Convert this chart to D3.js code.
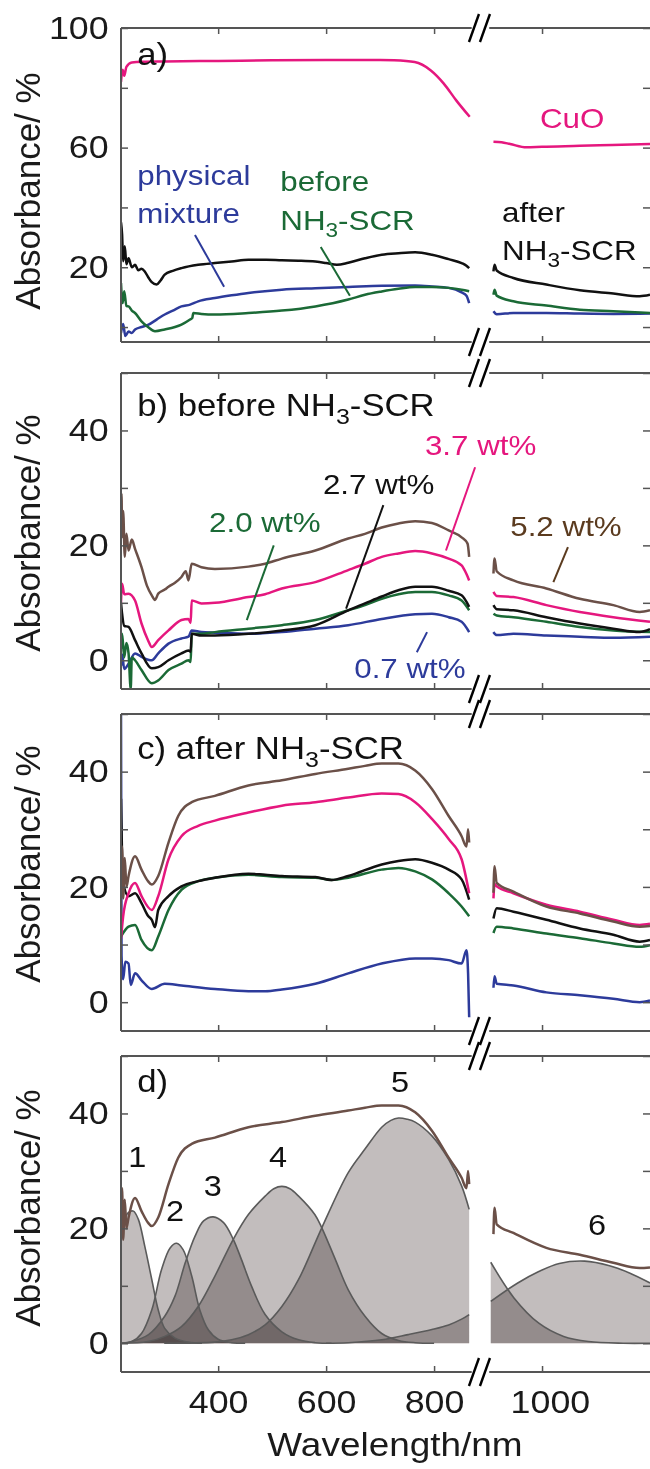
<!DOCTYPE html>
<html>
<head>
<meta charset="utf-8">
<script src="https://cdnjs.cloudflare.com/ajax/libs/d3/7.8.5/d3.min.js"></script>
<style>
  body { margin: 0; background: #fff; }
  svg { display: block; font-family: "Liberation Sans", Arial, sans-serif; }
</style>
</head>
<body>
<div id="chart"></div>
<script>
// all series are [wavelength / nm, absorbance / %]

// a) references
var cuoA = [[220,82],[223,86],[226,84],[230,87],[240,88.5],[260,88.7],[300,88.8],[400,89],[500,89.2],[600,89.3],[700,89.3],[726,89.2],[764,88.6],[794,85.8],[818,81.4],[841,75.8],[866,70.3],
  [910,62],[925,61.8],[941,61.2],[971,60.1],[1000,60.3],[1070,60.6],[1130,60.9],[1200,61.2]];
var afterA = [[220,35],[222,31],[224,22],[227,27],[230,21],[234,23],[240,20],[246,20.8],[252,19],[258,19.5],[264,18.6],[271,16.5],[277,15],[286,14.2],[293,15.5],[301,17.5],[316,18.8],[332,19.7],[363,20.8],[394,21.4],[425,21.9],[456,22.5],[489,22.5],[518,22.3],[549,22.2],[580,21.9],[600,21.4],[620,20.8],[641,21.5],[672,23],[703,24.2],[734,24.7],[765,25],[796,24.2],[827,22.7],[851,21.4],[860,20.5],[865,19.7],
  [910,18.6],[912,20.8],[916,18.9],[947,16.4],[1008,14.2],[1070,12.3],[1132,11.2],[1181,10.3],[1200,10.8]];
var mixtureA = [[220,-2],[224,1],[228,-3],[234,-1.5],[240,-2],[246,-0.8],[258,0],[271,0.8],[286,2.5],[301,4.2],[316,5.5],[332,6.9],[348,7.5],[363,8.6],[394,9.7],[425,10.6],[456,11.4],[518,12.5],[580,13],[641,13.4],[703,13.8],[765,13.9],[796,13.6],[827,13.1],[851,11.6],[860,10.5],[865,8],
  [910,5.3],[916,4.3],[947,4.7],[1008,4.7],[1070,4.5],[1132,4.4],[1200,4.5]];
var beforeA = [[220,14.7],[223,8],[226,12],[230,7],[234,6.9],[240,5.5],[246,4.7],[258,1.9],[270,0],[283,-1.4],[301,-0.8],[320,0],[332,0.8],[348,2.5],[352,3],[354,4.7],[369,4.4],[394,4.2],[456,4.7],[518,5.5],[580,6.9],[641,9.2],[672,10.8],[703,11.9],[734,12.8],[765,13.4],[796,13.4],[827,13.1],[851,12.5],[865,12],
  [910,10.8],[912,12.5],[916,10.5],[947,8.6],[1008,7.2],[1070,5.8],[1132,5.3],[1200,4.7]];

// b) before NH3-SCR, by Cu loading
var before52 = [[220,24],[221,29],[222,21.4],[224,26],[227,18],[230,22],[234,19.1],[240,21],[246,19.4],[258,16.2],[268,13],[277,11.3],[283,10.5],[289,11.6],[301,12.3],[308,12.8],[320,13.5],[332,14.5],[340,15.5],[345,13.9],[351,16.8],[369,16.2],[394,15.9],[456,16.3],[487,16.8],[518,17.7],[580,19.1],[641,21.2],[672,22],[703,23.1],[734,23.8],[765,24.2],[796,23.9],[827,22.6],[851,21.4],[862,20.3],[865,18],
  [910,15.1],[912,17.7],[916,15.5],[947,13.9],[1008,12.5],[1070,10.7],[1132,9.6],[1181,8.4],[1200,8.7]];
var before37 = [[220,10],[222,13.3],[226,11.5],[234,11.6],[246,10.4],[258,6.4],[270,3.5],[277,2.3],[289,3.5],[308,5.2],[332,7],[345,7.2],[349,6.5],[351,10.4],[369,9.9],[394,10],[456,11],[487,11.5],[518,12.5],[580,13.6],[641,15.7],[672,16.8],[703,18],[734,18.6],[765,19],[796,18.6],[827,17.7],[851,16.5],[860,15],[865,13.9],
  [910,11.9],[916,11.2],[947,11],[1008,9.6],[1070,8.4],[1132,7.5],[1200,6.7]];
var before27 = [[220,10],[222,8.1],[226,6],[234,5.8],[246,3.5],[258,1.2],[277,-1.4],[289,-1.2],[308,0],[332,1.2],[345,1.7],[349,1.5],[351,4.6],[369,4.3],[394,4.3],[456,4.6],[518,5.2],[580,6.1],[641,8.7],[672,9.9],[703,11.1],[734,12.2],[765,12.8],[796,12.8],[827,12.1],[851,11.3],[865,9.3],
  [910,9.6],[916,8.9],[947,8.7],[1008,7.5],[1070,6.4],[1132,5.5],[1181,4.9],[1200,5.4]];
var before20 = [[220,2],[222,4.6],[226,0.5],[230,3],[234,1.2],[238,-5],[240,0.5],[246,0],[258,-1.7],[277,-4],[289,-3.5],[308,-1.7],[332,-0.6],[345,0],[349,-0.3],[351,4.6],[369,4.6],[394,4.9],[456,5.5],[518,6.1],[580,7],[641,8.7],[672,9.6],[703,10.7],[734,11.5],[765,11.9],[796,11.9],[827,11.3],[851,10.4],[865,8.7],
  [910,8.1],[916,7.8],[947,7.5],[1008,6.7],[1070,5.8],[1132,5.2],[1200,4.9]];
var before07 = [[220,-1],[222,1],[226,-1.5],[234,-0.6],[246,1.2],[258,0.6],[277,0],[289,1.2],[308,2.9],[332,3.8],[345,4.1],[351,5.2],[369,4.9],[394,4.8],[456,4.6],[518,4.9],[580,5.5],[641,6.1],[703,7.2],[765,8],[796,8.1],[827,7.5],[851,6.7],[865,4.9],
  [910,4.9],[916,4.4],[947,4.6],[1008,4.3],[1070,4.1],[1132,3.9],[1200,4.1]];

// c) after NH3-SCR
var after52 = [[220,22],[222,27],[224,18],[227,25],[230,20],[234,21.9],[246,25.3],[258,23],[270,21],[277,20.4],[289,21.9],[308,27.7],[326,32.3],[351,34.7],[394,35.8],[456,37.6],[518,38.5],[580,39.6],[641,40.5],[672,41],[703,41.4],[734,41.4],[765,40.2],[796,37],[827,32.3],[851,28.8],[860,27],[863,30],[865,27.7],
  [910,19],[912,23.6],[916,20.7],[947,19.2],[1008,16.6],[1070,15.4],[1132,14],[1181,13.1],[1200,13.2]];
var after37 = [[220,11],[224,14.9],[234,18.9],[246,20.7],[258,18.4],[277,16],[289,18.4],[308,24.8],[332,28.8],[363,30.6],[394,31.5],[456,32.9],[518,34.1],[580,34.7],[641,35.5],[703,36.2],[734,36.1],[765,34.7],[796,31.8],[827,28.3],[851,24.8],[865,18.9],
  [910,18],[912,20.5],[916,20.1],[947,18.9],[1008,16.9],[1070,15.7],[1132,14.3],[1181,13.4],[1200,13.6]];
var after27 = [[220,35.3],[222,25],[224,20.7],[234,18.4],[246,18.9],[258,17.2],[270,15],[277,14.3],[283,13],[289,16],[308,18.4],[332,20.1],[363,21],[394,21.6],[456,22.3],[487,22.1],[518,21.9],[580,21.7],[610,21.2],[641,21.9],[703,23.9],[734,24.5],[765,24.8],[796,24.2],[827,23],[851,21.3],[865,17.8],
  [910,14.5],[916,16.3],[947,15.7],[1008,14.3],[1070,12.8],[1132,11.7],[1181,10.5],[1200,10.8]];
var after20 = [[220,11.4],[234,13.1],[246,13.4],[258,10.8],[277,9],[289,11.4],[308,16],[332,19.5],[363,21],[394,21.6],[456,22.1],[518,21.7],[580,21.6],[610,21.2],[641,21.6],[703,23],[734,23.3],[765,22.7],[796,21.3],[827,18.9],[851,16.6],[865,14.9],
  [910,12],[916,13.1],[947,12.8],[1008,11.9],[1070,11.1],[1132,10.2],[1181,9.6],[1200,9.9]];
var after07 = [[220,50],[221,8],[224,4],[228,7],[234,6.7],[238,3],[246,5],[258,3.8],[277,2.3],[301,3.2],[332,2.9],[394,2.3],[456,1.9],[487,1.9],[518,2.2],[580,3.2],[641,5],[703,6.7],[765,7.6],[796,7.6],[827,7.3],[851,6.7],[860,9],[863,5],[865,-2.6],
  [910,2.5],[912,4.5],[916,3.2],[947,2.9],[1008,1.7],[1070,1.2],[1132,0.6],[1181,0],[1200,0.3]];

// d) fitted bands of the 5.2 wt% sample after NH3-SCR
var band1 = [[220,20.4],[234,22.8],[243,23],[252,21.6],[264,16.9],[277,11.1],[289,5.8],[301,2.6],[320,0.9],[345,0.2],[370,0]];
var band2 = [[220,0],[240,0.3],[258,1.7],[277,5.8],[295,12.8],[311,16.6],[323,17.4],[335,16.3],[351,11.7],[366,5.8],[382,2.3],[400,0.7],[425,0.1],[450,0]];
var band3 = [[220,0],[240,0.3],[271,1.5],[301,4.7],[320,8.2],[339,14],[357,18.6],[373,21.3],[391,22],[410,21],[428,18.1],[443,14.6],[462,9.9],[487,5],[518,2],[549,0.6],[580,0.1],[610,0]];
var band4 = [[220,0],[270,0.3],[301,1.2],[332,2.9],[363,6.4],[394,11.7],[428,18.1],[456,22.4],[487,25.6],[503,26.9],[518,27.3],[533,26.9],[549,25.6],[579,22.4],[592,20.1],[617,14.6],[641,9.3],[672,4.7],[703,1.7],[734,0.5],[765,0.1],[800,0]];
var band5 = [[300,0],[394,0.2],[425,0.6],[456,1.5],[487,3.2],[518,6.4],[549,11.1],[592,20.1],[641,29.7],[672,33.8],[703,37.6],[720,38.8],[734,39.2],[750,39],[765,38.5],[796,36.1],[827,32],[851,27.4],[865,23.3],
  [905,14.1],[948,7.9],[994,3.5],[1040,1.2],[1086,0.3],[1150,0],[1200,0]];
var band6 = [[600,0],[641,0.1],[703,0.6],[752,1.5],[796,2.4],[827,3.2],[851,4.2],[865,5],
  [905,7.3],[955,10.5],[994,12.5],[1032,13.9],[1079,14.3],[1125,13.5],[1163,12.2],[1200,10.5]];

var xTicks = [400, 600, 800, 1000];
var yTicksA = [0, 20, 40, 60, 80, 100], yLabelsA = [20, 60, 100];
var yTicks = [0, 10, 20, 30, 40, 50], yLabels = [0, 20, 40];

var PINK = "#e5177e", BLUE = "#2d3b9b", GREEN = "#1b6a36", BLACK = "#111", BROWN = "#6b5048", BROWN_TXT = "#5b3b1f";
var AXIS = "#555", PEAK_FILL = "rgb(194,189,189)", PEAK_LINE = "#5a5a5a";

var width = 650, height = 1469;
var left = 121, right = 650;
var breakFrom = 866, breakTo = 904;
var stretch = 1.12;

var svg = d3.select("#chart").append("svg")
    .attr("width", width)
    .attr("height", height);
var defs = svg.append("defs");

var x = d3.scaleLinear().domain([220, 1200]).range([left, right]);

var panels = [
  { top: 28, bottom: 342, domain: [-5, 100], ticks: yTicksA, labels: yLabelsA, titleY: 191,
    curves: [[mixtureA, BLUE], [beforeA, GREEN], [afterA, BLACK], [cuoA, PINK]],
    notes: [
      { at: [250, 87.5], text: "a)", color: BLACK, size: 31 },
      { at: [250, 47.5], text: "physical", color: BLUE, size: 28 },
      { at: [250, 34.8], text: "mixture", color: BLUE, size: 28 },
      { at: [515, 45.5], text: "before", color: GREEN, size: 28 },
      { at: [515, 32.5], text: "NH{3}-SCR", color: GREEN, size: 28 },
      { at: [926, 35.2], text: "after", color: BLACK, size: 28 },
      { at: [926, 22.5], text: "NH{3}-SCR", color: BLACK, size: 28 },
      { at: [996, 66.5], text: "CuO", color: PINK, size: 28 }
    ],
    leaders: [[[357, 30.8], [411, 13.5], BLUE], [[590, 26.8], [644, 10.5], GREEN]] },
  { top: 373, bottom: 689, domain: [-5, 50], ticks: yTicks, labels: yLabels, titleY: 533,
    curves: [[before07, BLUE], [before20, GREEN], [before27, BLACK], [before37, PINK], [before52, BROWN]],
    notes: [
      { at: [250, 42.6], text: "b) before NH{3}-SCR", color: BLACK, size: 31 },
      { at: [783, 35.7], text: "3.7 wt%", color: PINK, size: 28 },
      { at: [594, 29], text: "2.7 wt%", color: BLACK, size: 28 },
      { at: [383, 22.3], text: "2.0 wt%", color: GREEN, size: 28 },
      { at: [941, 21.7], text: "5.2 wt%", color: BROWN_TXT, size: 28 },
      { at: [652, -3], text: "0.7 wt%", color: BLUE, size: 28 }
    ],
    leaders: [[[876, 33.6], [822, 19.1], PINK], [[706, 27], [637, 9], BLACK], [[503, 20], [453, 7], GREEN],
              [[1048, 19.7], [1021, 13.6], BROWN_TXT], [[787, 4.9], [768, 1.4], BLUE]] },
  { top: 714, bottom: 1031, domain: [-5, 50], ticks: yTicks, labels: yLabels, titleY: 864,
    curves: [[after07, BLUE], [after20, GREEN], [after27, BLACK], [after37, PINK], [after52, BROWN]],
    notes: [{ at: [250, 42.2], text: "c) after NH{3}-SCR", color: BLACK, size: 31 }],
    leaders: [] },
  { top: 1056, bottom: 1372, domain: [-5, 50], ticks: yTicks, labels: yLabels, titleY: 1208,
    bands: [band1, band2, band3, band4, band5, band6],
    curves: [[after52, BROWN]],
    notes: [
      { at: [250, 43.7], text: "d)", color: BLACK, size: 31 },
      { at: [250, 30.6], text: "1", color: BLACK, size: 29, anchor: "middle" },
      { at: [320, 21.2], text: "2", color: BLACK, size: 29, anchor: "middle" },
      { at: [390, 25.6], text: "3", color: BLACK, size: 29, anchor: "middle" },
      { at: [511, 30.6], text: "4", color: BLACK, size: 29, anchor: "middle" },
      { at: [737, 43.8], text: "5", color: BLACK, size: 29, anchor: "middle" },
      { at: [1102, 18.9], text: "6", color: BLACK, size: 29, anchor: "middle" }
    ],
    leaders: [], xLabels: true }
];

// left and right pieces of a spectrum around the axis break
function segments(data) {
  return [
    data.filter(function(d) { return d[0] <= breakFrom; }),
    data.filter(function(d) { return d[0] >= breakTo; })
  ].filter(function(s) { return s.length > 1; });
}

// text with "{n}" parts set as subscripts, slightly widened like the figure
function addText(g, px, py, str, size, color, anchor) {
  var t = g.append("text")
      .attr("transform", "translate(" + px + "," + py + ") scale(" + stretch + ",1)")
      .attr("font-size", size)
      .attr("fill", color)
      .attr("text-anchor", anchor || "start");
  var shift = 0;
  str.split(/(\{[^}]*\})/).forEach(function(part) {
    if (!part) return;
    if (part[0] == "{") {
      t.append("tspan").attr("font-size", size * 0.72).attr("dy", size * 0.27).text(part.slice(1, -1));
      shift = size * 0.27;
    } else {
      t.append("tspan").attr("dy", -shift).text(part);
      shift = 0;
    }
  });
  return t;
}

function breakMark(y) {
  var cx = (x(breakFrom) + x(breakTo)) / 2;
  [-11, 0].forEach(function(o) {
    svg.append("line")
        .attr("x1", cx + o).attr("y1", y + 14)
        .attr("x2", cx + o + 10).attr("y2", y - 14)
        .attr("stroke", "#000").attr("stroke-width", 2.4);
  });
}

function styleAxis(g) {
  g.select(".domain").remove();
  g.attr("color", AXIS);
  g.selectAll(".tick line").attr("stroke-width", 1.5);
  g.selectAll(".tick text")
      .attr("font-size", 32)
      .attr("font-family", "Liberation Sans, Arial, sans-serif")
      .attr("fill", "#1a1a1a");
}

panels.forEach(function(p, i) {
  var y = d3.scaleLinear().domain(p.domain).range([p.bottom, p.top]);
  var g = svg.append("g");

  defs.append("clipPath").attr("id", "clip" + i)
    .append("rect")
      .attr("x", left).attr("y", p.top)
      .attr("width", right - left).attr("height", p.bottom - p.top);
  var plot = g.append("g").attr("clip-path", "url(#clip" + i + ")");

  var line = d3.line()
      .x(function(d) { return x(d[0]); })
      .y(function(d) { return y(d[1]); })
      .curve(d3.curveMonotoneX);

  // fitted bands, overlaps darken
  if (p.bands) {
    var smooth = d3.curveCatmullRom.alpha(0.5);
    var area = d3.area()
        .x(function(d) { return x(d[0]); })
        .y0(y(0))
        .y1(function(d) { return y(d[1]); })
        .curve(smooth);
    var bandLine = d3.line()
        .x(function(d) { return x(d[0]); })
        .y(function(d) { return y(d[1]); })
        .curve(smooth);
    var bandG = plot.append("g").style("isolation", "isolate");
    p.bands.forEach(function(b) {
      segments(b).forEach(function(s) {
        bandG.append("path").datum(s)
            .attr("d", area)
            .attr("fill", PEAK_FILL)
            .style("mix-blend-mode", "multiply");
      });
    });
    p.bands.forEach(function(b) {
      segments(b).forEach(function(s) {
        plot.append("path").datum(s)
            .attr("d", bandLine)
            .attr("fill", "none")
            .attr("stroke", PEAK_LINE)
            .attr("stroke-width", 1.6);
      });
    });
  }

  p.curves.forEach(function(c) {
    segments(c[0]).forEach(function(s) {
      plot.append("path").datum(s)
          .attr("d", line)
          .attr("fill", "none")
          .attr("stroke", c[1])
          .attr("stroke-width", 2.5)
          .attr("stroke-linejoin", "round");
    });
  });

  // axes, ticks pointing inwards
  g.append("g")
      .attr("transform", "translate(" + left + ",0)")
      .call(d3.axisLeft(y).tickValues(p.ticks).tickSize(-7).tickPadding(11)
        .tickFormat(function(d) { return p.labels.indexOf(d) >= 0 ? d : ""; }))
      .call(styleAxis)
      .selectAll(".tick text").attr("transform", "scale(" + stretch + ",1)");
  g.append("g")
      .attr("transform", "translate(" + right + ",0)")
      .call(d3.axisRight(y).tickValues(p.ticks).tickSize(-7).tickFormat(""))
      .call(styleAxis);
  g.append("g")
      .attr("transform", "translate(0," + p.top + ")")
      .call(d3.axisTop(x).tickValues(xTicks).tickSize(-6).tickFormat(""))
      .call(styleAxis);
  var xb = g.append("g")
      .attr("transform", "translate(0," + p.bottom + ")")
      .call(d3.axisBottom(x).tickValues(xTicks).tickSize(-6).tickPadding(18)
        .tickFormat(p.xLabels ? d3.format("d") : ""))
      .call(styleAxis);
  xb.selectAll(".tick text")
      .attr("transform", "scale(" + stretch + ",1)")
      .attr("dx", function(d) { return d == 1000 ? 7 : 0; });

  // frame with gaps at the break
  g.append("line")
      .attr("x1", left).attr("x2", left).attr("y1", p.top).attr("y2", p.bottom)
      .attr("stroke", AXIS).attr("stroke-width", 2);
  [p.top, p.bottom].forEach(function(yy) {
    [[left, x(breakFrom) + 2], [x(breakTo) - 1, right]].forEach(function(r) {
      g.append("line")
          .attr("x1", r[0]).attr("x2", r[1]).attr("y1", yy).attr("y2", yy)
          .attr("stroke", AXIS).attr("stroke-width", 2);
    });
    breakMark(yy);
  });

  p.leaders.forEach(function(l) {
    g.append("line")
        .attr("x1", x(l[0][0])).attr("y1", y(l[0][1]))
        .attr("x2", x(l[1][0])).attr("y2", y(l[1][1]))
        .attr("stroke", l[2]).attr("stroke-width", 2);
  });
  p.notes.forEach(function(n) {
    addText(g, x(n.at[0]), y(n.at[1]), n.text, n.size, n.color, n.anchor);
  });

  g.append("text")
      .attr("transform", "translate(40," + p.titleY + ") rotate(-90)")
      .attr("text-anchor", "middle")
      .attr("font-size", 35)
      .attr("fill", "#1a1a1a")
      .text("Absorbance/ %");
});

addText(svg, 395, 1456, "Wavelength/nm", 33, "#1a1a1a", "middle");
</script>
</body>
</html>
